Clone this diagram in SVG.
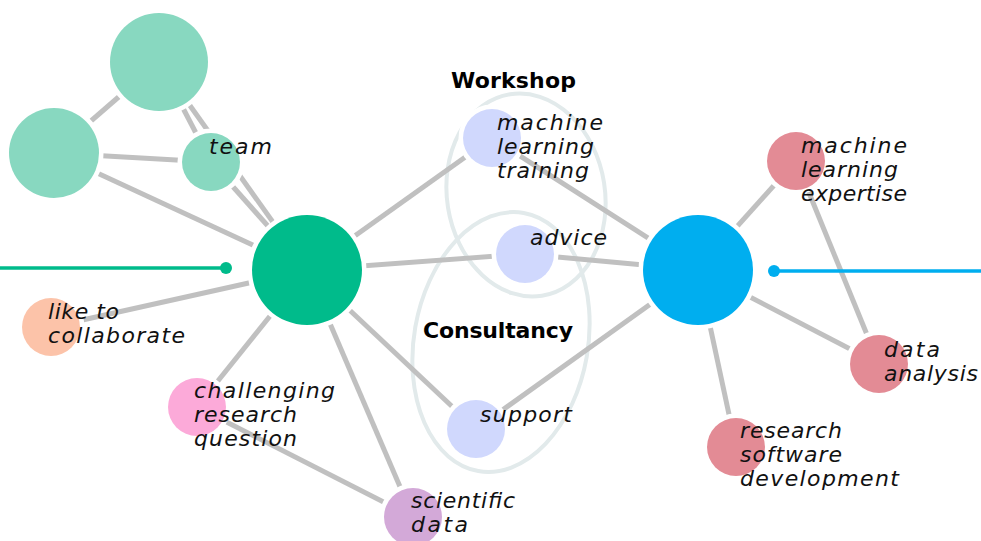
<svg xmlns="http://www.w3.org/2000/svg" width="981" height="541" viewBox="0 0 981 541">
<style>
.edge{stroke:#c0c0c0;stroke-width:5;fill:none}
.node{stroke:#ffffff;stroke-width:9;paint-order:stroke}
.group{fill:none;stroke:#e2eaeb;stroke-width:4}
.lbl{font-family:"DejaVu Sans","Liberation Sans",sans-serif;font-style:italic;font-size:22px;fill:#111}
.ttl{font-family:"DejaVu Sans","Liberation Sans",sans-serif;font-weight:bold;font-size:22px;fill:#000}
.teal{fill:#88d8c0}
.lav{fill:#d0d8fd}
.rose{fill:#e38b95}
</style>
<rect width="981" height="541" fill="#ffffff"/>
<g id="groups">
<ellipse class="group" cx="526" cy="195" rx="79" ry="102" transform="rotate(-9 526 195)"/>
<ellipse class="group" cx="501" cy="342" rx="87" ry="131" transform="rotate(10 501 342)"/>
</g>
<g id="connectors">
<line class="edge" x1="159" y1="62" x2="54" y2="153"/>
<line class="edge" x1="159" y1="62" x2="211" y2="162"/>
<line class="edge" x1="159" y1="62" x2="307" y2="270"/>
<line class="edge" x1="54" y1="153" x2="211" y2="162"/>
<line class="edge" x1="54" y1="153" x2="307" y2="270"/>
<line class="edge" x1="211" y1="162" x2="307" y2="270"/>
<line class="edge" x1="307" y1="270" x2="492" y2="138"/>
<line class="edge" x1="307" y1="270" x2="525" y2="254"/>
<line class="edge" x1="307" y1="270" x2="51" y2="327"/>
<line class="edge" x1="307" y1="270" x2="197" y2="407"/>
<line class="edge" x1="307" y1="270" x2="413" y2="517"/>
<line class="edge" x1="307" y1="270" x2="476" y2="429"/>
<line class="edge" x1="197" y1="407" x2="413" y2="517"/>
<line class="edge" x1="492" y1="138" x2="698" y2="270"/>
<line class="edge" x1="525" y1="254" x2="698" y2="270"/>
<line class="edge" x1="476" y1="429" x2="698" y2="270"/>
<line class="edge" x1="698" y1="270" x2="796" y2="161"/>
<line class="edge" x1="698" y1="270" x2="879" y2="364"/>
<line class="edge" x1="698" y1="270" x2="736" y2="447"/>
<line class="edge" x1="796" y1="161" x2="879" y2="364"/>
<line x1="0" y1="268" x2="226" y2="268" stroke="#00bb8b" stroke-width="3.5"/>
<circle cx="226" cy="268" r="6" fill="#00bb8b"/>
<line x1="774" y1="271" x2="981" y2="271" stroke="#00aeef" stroke-width="3.5"/>
<circle cx="774" cy="271" r="6" fill="#00aeef"/>
</g>
<g id="node-teal-top"><circle class="node teal" cx="159" cy="62" r="49"/></g>
<g id="node-teal-left"><circle class="node teal" cx="54" cy="153" r="45"/></g>
<g id="node-team"><circle class="node teal" cx="211" cy="162" r="29"/>
<text class="lbl" x="209" y="154" textLength="63">team</text></g>
<g id="node-main-green"><circle class="node" fill="#00bb8b" cx="307" cy="270" r="55"/></g>
<g id="node-main-blue"><circle class="node" fill="#00aeef" cx="698" cy="270" r="55"/></g>
<g id="node-ml-training"><circle class="node lav" cx="492" cy="138" r="29"/>
<text class="lbl" x="497" y="130" textLength="106">machine</text>
<text class="lbl" x="497" y="154" textLength="97">learning</text>
<text class="lbl" x="497" y="178" textLength="92">training</text></g>
<g id="node-advice"><circle class="node lav" cx="525" cy="254" r="29"/>
<text class="lbl" x="530" y="245" textLength="77">advice</text></g>
<g id="node-support"><circle class="node lav" cx="476" cy="429" r="29"/>
<text class="lbl" x="480" y="422" textLength="92">support</text></g>
<g id="node-scientific-data"><circle class="node" fill="#d3a9d8" cx="413" cy="517" r="29"/>
<text class="lbl" x="411" y="508" textLength="104">scientific</text>
<text class="lbl" x="411" y="532" textLength="57">data</text></g>
<g id="node-collaborate"><circle class="node" fill="#fcc3a9" cx="51" cy="327" r="29"/>
<text class="lbl" x="48" y="319" textLength="71">like to</text>
<text class="lbl" x="48" y="343" textLength="137">collaborate</text></g>
<g id="node-challenging"><circle class="node" fill="#fcaad9" cx="197" cy="407" r="29"/>
<text class="lbl" x="194" y="398" textLength="141">challenging</text>
<text class="lbl" x="194" y="422" textLength="103">research</text>
<text class="lbl" x="194" y="446" textLength="103">question</text></g>
<g id="node-ml-expertise"><circle class="node rose" cx="796" cy="161" r="29"/>
<text class="lbl" x="801" y="153" textLength="106">machine</text>
<text class="lbl" x="801" y="177" textLength="97">learning</text>
<text class="lbl" x="801" y="201" textLength="106">expertise</text></g>
<g id="node-data-analysis"><circle class="node rose" cx="879" cy="364" r="29"/>
<text class="lbl" x="884" y="357" textLength="56">data</text>
<text class="lbl" x="884" y="381" textLength="94">analysis</text></g>
<g id="node-rsd"><circle class="node rose" cx="736" cy="447" r="29"/>
<text class="lbl" x="740" y="438" textLength="102">research</text>
<text class="lbl" x="740" y="462" textLength="102">software</text>
<text class="lbl" x="740" y="486" textLength="159">development</text></g>
<g id="titles">
<text class="ttl" x="451" y="88" textLength="125">Workshop</text>
<text class="ttl" x="423" y="338" textLength="150">Consultancy</text>
</g>
</svg>
